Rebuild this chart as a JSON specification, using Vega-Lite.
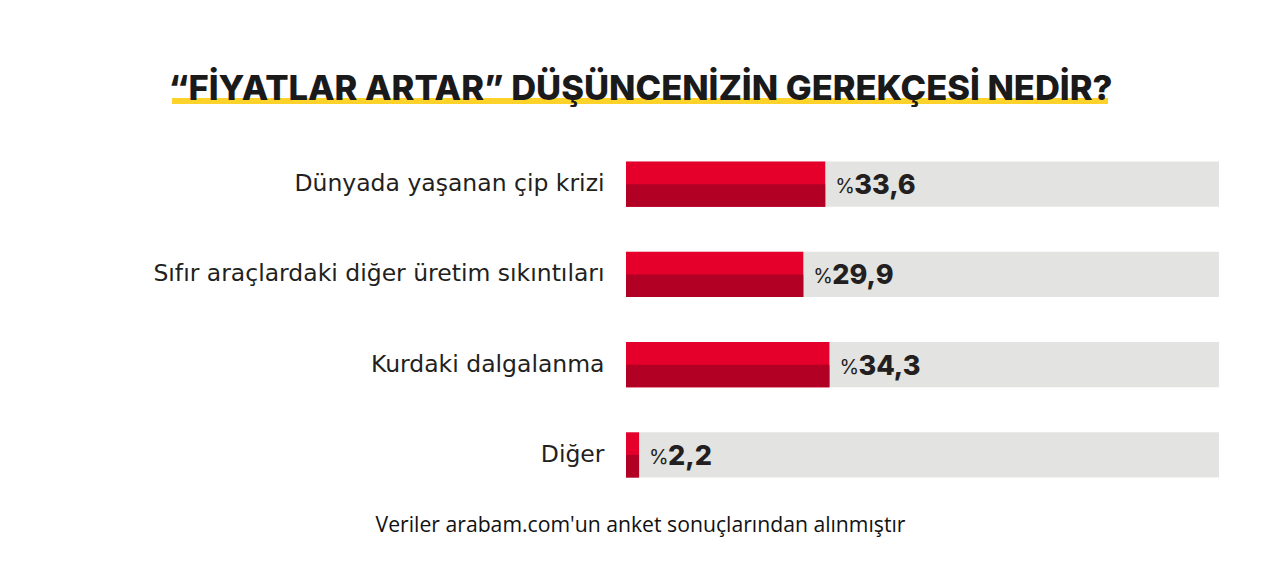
{
  "$schema": "https://vega.github.io/schema/vega-lite/v6.json",
  "width": 593,
  "height": 361,
  "autosize": {"type": "none"},
  "padding": {"left": 626, "top": 139, "right": 61, "bottom": 79},
  "background": "#ffffff",
  "title": {
    "text": "“FİYATLAR ARTAR” DÜŞÜNCENİZİN GEREKÇESİ NEDİR?",
    "anchor": "middle",
    "frame": "group",
    "dx": -282,
    "offset": -9,
    "font": "Inter",
    "fontSize": 34.5,
    "fontWeight": 800,
    "color": "#1a1a1a"
  },
  "config": {"view": {"stroke": null}},
  "data": {
    "values": [
      {"neden": "Dünyada yaşanan çip krizi", "oran": 33.6, "etiket": "33,6", "toplam": 100},
      {"neden": "Sıfır araçlardaki diğer üretim sıkıntıları", "oran": 29.9, "etiket": "29,9", "toplam": 100},
      {"neden": "Kurdaki dalgalanma", "oran": 34.3, "etiket": "34,3", "toplam": 100},
      {"neden": "Diğer", "oran": 2.2, "etiket": "2,2", "toplam": 100}
    ]
  },
  "encoding": {
    "y": {
      "field": "neden",
      "type": "nominal",
      "sort": null,
      "scale": {"paddingInner": 0.5, "paddingOuter": 0.25},
      "axis": {
        "title": null,
        "ticks": false,
        "domain": false,
        "labelPadding": 22,
        "labelFont": "DejaVu Sans",
        "labelFontSize": 23.5,
        "labelColor": "#231f20",
        "labelLimit": 600
      }
    }
  },
  "layer": [
    {
      "mark": {"type": "rect", "color": "#fdd22b", "clip": false},
      "data": {"values": [{}]},
      "encoding": {
        "x": {"value": -454},
        "x2": {"value": 482},
        "y": {"value": -41},
        "y2": {"value": -35}
      }
    },
    {
      "mark": {"type": "bar", "color": "#e3e3e1"},
      "encoding": {
        "x": {
          "field": "toplam",
          "type": "quantitative",
          "scale": {"domain": [0, 100]},
          "axis": {
            "title": "Veriler arabam.com'un anket sonuçlarından alınmıştır",
            "labels": false,
            "ticks": false,
            "domain": false,
            "grid": false,
            "titleFont": "Open Sans",
            "titleFontSize": 21.2,
            "titleFontWeight": "normal",
            "titleColor": "#111111",
            "titleX": 14,
            "titleY": 25,
            "titleAnchor": "middle",
            "titleAlign": "center",
            "titleBaseline": "middle"
          }
        }
      }
    },
    {
      "mark": {"type": "bar", "color": "#e4002b"},
      "encoding": {"x": {"field": "oran", "type": "quantitative"}}
    },
    {
      "mark": {"type": "bar", "color": "#b20025", "height": {"band": 0.5}, "yOffset": 11.3},
      "encoding": {"x": {"field": "oran", "type": "quantitative"}}
    },
    {
      "mark": {"type": "text", "align": "left", "baseline": "alphabetic", "dx": 10, "dy": 9, "font": "Inter", "fontSize": 20, "color": "#231f20"},
      "encoding": {"x": {"field": "oran", "type": "quantitative"}, "text": {"value": "%"}}
    },
    {
      "mark": {"type": "text", "align": "left", "baseline": "alphabetic", "dx": 29, "dy": 10, "font": "Inter", "fontSize": 27, "fontWeight": 800, "color": "#231f20"},
      "encoding": {"x": {"field": "oran", "type": "quantitative"}, "text": {"field": "etiket"}}
    }
  ]
}
